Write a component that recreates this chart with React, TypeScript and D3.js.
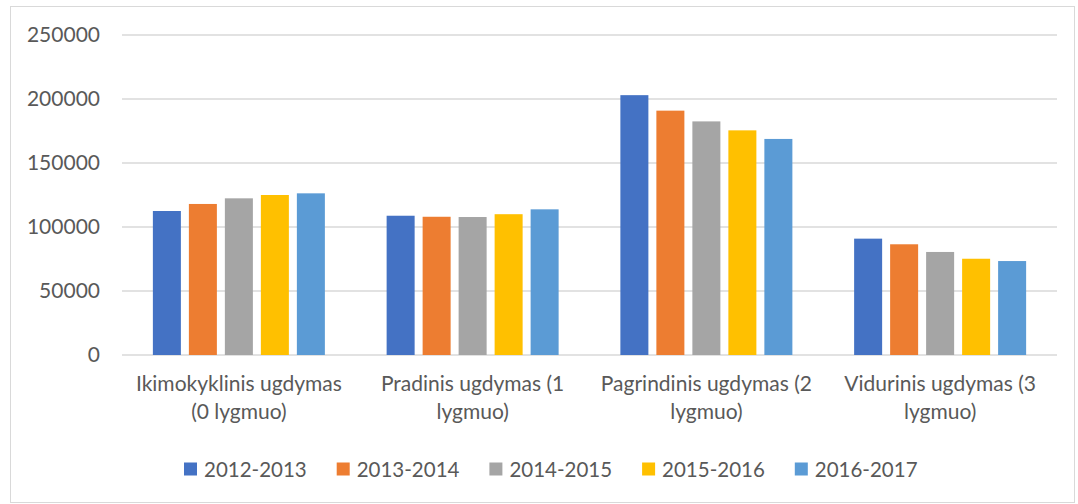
import React from 'react'
import { scaleBand, scaleLinear } from 'd3'

const width = 1078
const height = 504

const categories = [
  ['Ikimokyklinis ugdymas', '(0 lygmuo)'],
  ['Pradinis ugdymas (1', 'lygmuo)'],
  ['Pagrindinis ugdymas (2', 'lygmuo)'],
  ['Vidurinis ugdymas (3', 'lygmuo)'],
]
const series = ['2012-2013', '2013-2014', '2014-2015', '2015-2016', '2016-2017']
const colors = ['#4472C4', '#ED7D31', '#A5A5A5', '#FFC000', '#5B9BD5']

// values per series, one per category
const s2012 = [112500, 108800, 203000, 90900]
const s2013 = [118000, 108000, 190900, 86500]
const s2014 = [122400, 107800, 182500, 80500]
const s2015 = [125000, 110000, 175500, 75200]
const s2016 = [126300, 113800, 168800, 73400]
const values = [s2012, s2013, s2014, s2015, s2016]

const yTicks = [0, 50000, 100000, 150000, 200000, 250000]

const font = 'Lato, sans-serif'
const textColor = '#595959'

export default function App() {
  const xScale = scaleBand<number>()
    .domain(categories.map((_, i) => i))
    .range([122, 1057])
  const groupWidth = 172
  const inner = scaleBand<number>()
    .domain(series.map((_, i) => i))
    .range([0, groupWidth])
    .paddingInner(0.222)
  const yScale = scaleLinear().domain([0, 250000]).range([355, 35])

  return (
    <svg width={width} height={height} style={{ position: 'absolute', left: 0, top: 0 }}>
      <rect x={0} y={0} width={width} height={height} fill="#fff" />
      <rect x={10.5} y={6.5} width={1064} height={496} fill="none" stroke="#d9d9d9" />
      {yTicks.map(t => (
        <g key={t}>
          <line x1={122} x2={1057} y1={yScale(t)} y2={yScale(t)} stroke="#d9d9d9" strokeWidth={1.3} />
          <text x={100} y={yScale(t)} dy="0.35em" textAnchor="end" fontFamily={font} fontSize={21} fill={textColor}>
            {t}
          </text>
        </g>
      ))}
      {categories.map((c, ci) => {
        const cx = xScale(ci)! + xScale.bandwidth() / 2
        const x0 = cx - groupWidth / 2
        return (
          <g key={ci}>
            {series.map((s, si) => (
              <rect
                key={s}
                x={x0 + inner(si)!}
                y={yScale(values[si][ci])}
                width={inner.bandwidth()}
                height={yScale(0) - yScale(values[si][ci])}
                fill={colors[si]}
              />
            ))}
            {c.map((line, li) => (
              <text key={li} x={cx} y={391 + li * 28} textAnchor="middle" fontFamily={font} fontSize={21} fill={textColor}>
                {line}
              </text>
            ))}
          </g>
        )
      })}
      {series.map((s, si) => {
        const lx = 184 + si * 152.7
        return (
          <g key={s}>
            <rect x={lx} y={462.5} width={13} height={13} fill={colors[si]} />
            <text x={lx + 20} y={476.5} fontFamily={font} fontSize={20.5} fill={textColor}>
              {s}
            </text>
          </g>
        )
      })}
    </svg>
  )
}
